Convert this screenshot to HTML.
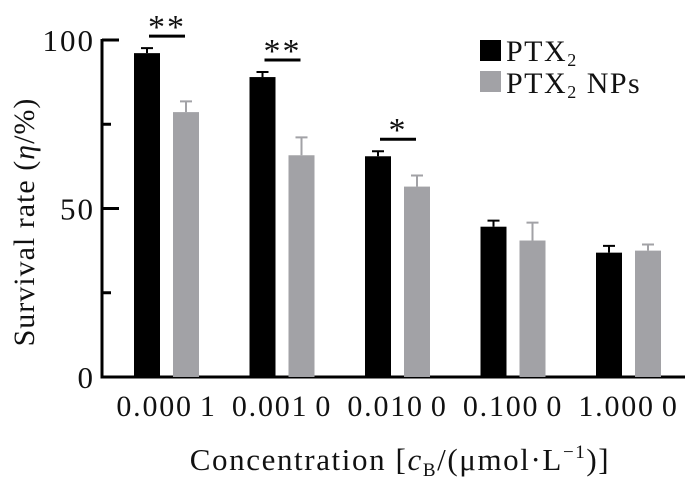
<!DOCTYPE html>
<html><head><meta charset="utf-8"><style>
html,body{margin:0;padding:0;background:#fff}
svg{display:block}
text{font-family:"Liberation Serif",serif;fill:#111}
</style></head><body>
<svg id="chart" width="685" height="492" viewBox="0 0 685 492"></svg>
<script>
const categories=["0.000 1","0.001 0","0.010 0","0.100 0","1.000 0"];
const ptxValues=[96.1,89.0,65.5,44.6,36.9];
const ptxErrors=[1.5,1.5,1.5,1.8,2.0];
const npValues=[78.6,65.8,56.5,40.5,37.5];
const npErrors=[3.2,5.3,3.3,5.3,1.8];
const yTicks=[0,50,100];
const minorTicks=[25,75];
const sigLabels=["**","**","*"];
const NS="http://www.w3.org/2000/svg";
const svg=document.getElementById('chart');
const y0=377,y100=40,axisX=102;
function y(v){return y0-(y0-y100)*v/100;}
const groupStart=134,groupStep=115.5,barW=26,gap=13;
function xBlack(i){return groupStart+i*groupStep;}
function xGray(i){return xBlack(i)+barW+gap;}
function el(tag,attrs,parent){const e=document.createElementNS(NS,tag);for(const k in attrs)e.setAttribute(k,attrs[k]);(parent||svg).appendChild(e);return e;}
let a=el('line',{x1:axisX,y1:y(100)-1,x2:axisX,y2:y0+1.5,stroke:'#000','stroke-width':3});


a=el('line',{x1:axisX-1.5,y1:y0,x2:685,y2:y0,stroke:'#000','stroke-width':3});


yTicks.forEach(v=>{
 const t=el('line',{x1:axisX,y1:y(v),x2:axisX+17,y2:y(v),stroke:'#000','stroke-width':3});
 
 
 const l=el('text',{x:95,y:y(v)+11,'text-anchor':'end','font-size':31,'letter-spacing':2});
 l.textContent=v;
 
 
});
minorTicks.forEach(v=>{
 const t=el('line',{x1:axisX,y1:y(v),x2:axisX+9,y2:y(v),stroke:'#000','stroke-width':3});
 
 
});
categories.forEach((c,i)=>{
 const bx=xBlack(i),gx=xGray(i);
 let e=el('path',{d:`M${bx+barW/2} ${y(ptxValues[i])} V${y(ptxValues[i]+ptxErrors[i])} M${bx+barW/2-6} ${y(ptxValues[i]+ptxErrors[i])} H${bx+barW/2+6}`,stroke:'#000','stroke-width':2,fill:'none'});
 
 
 e=el('path',{d:`M${gx+barW/2} ${y(npValues[i])} V${y(npValues[i]+npErrors[i])} M${gx+barW/2-6} ${y(npValues[i]+npErrors[i])} H${gx+barW/2+6}`,stroke:'#a2a2a6','stroke-width':2,fill:'none'});
 
 
 const b=el('rect',{x:bx,y:y(ptxValues[i]),width:barW,height:y0-y(ptxValues[i]),fill:'#000'});
 
 
 const g=el('rect',{x:gx,y:y(npValues[i]),width:barW,height:y0-y(npValues[i]),fill:'#a2a2a6'});
 
 
 const parts=c.split(' ');
 const l=el('text',{x:bx+barW+gap/2,y:416,'text-anchor':'middle','font-size':30,'letter-spacing':1.8});
 
 
 const t1=el('tspan',{},l);t1.textContent=parts[0];
 const t2=el('tspan',{dx:7},l);t2.textContent=parts[1];
});
sigLabels.forEach((s,i)=>{
 const ly=y(ptxValues[i]+ptxErrors[i])-12;
 const x1=xBlack(i)+barW/2+2,x2=xGray(i)+barW/2-1;
 const ln=el('line',{x1:x1,y1:ly,x2:x2,y2:ly,stroke:'#000','stroke-width':3});
 
 
 const t=el('text',{x:(x1+x2)/2,y:ly+2,'text-anchor':'middle','font-size':34,'letter-spacing':2});
 t.textContent=s;
 
 
});
</script>
<svg style="position:absolute;left:0;top:0" width="685" height="492">
<text transform="translate(34,222) rotate(-90)" text-anchor="middle" font-size="30" letter-spacing="1">Survival rate (<tspan font-style="italic">η</tspan>/%)</text>
<text x="400" y="470" text-anchor="middle" font-size="31" letter-spacing="1.6">Concentration [<tspan font-style="italic">c</tspan><tspan font-size="19" dy="6">B</tspan><tspan dy="-6">/(μmol·L</tspan><tspan font-size="19" dy="-12">−1</tspan><tspan dy="12">)]</tspan></text>
<g>
<rect x="480" y="40" width="21" height="21" fill="#000"/>
<text x="506" y="61" font-size="30" letter-spacing="1.5">PTX<tspan font-size="18" dy="5">2</tspan></text>
<rect x="480" y="71" width="21" height="21" fill="#a2a2a6"/>
<text x="506" y="93" font-size="30" letter-spacing="1.5">PTX<tspan font-size="18" dy="5">2</tspan><tspan dy="-5"> NPs</tspan></text>
</g>
</svg>
</body></html>
